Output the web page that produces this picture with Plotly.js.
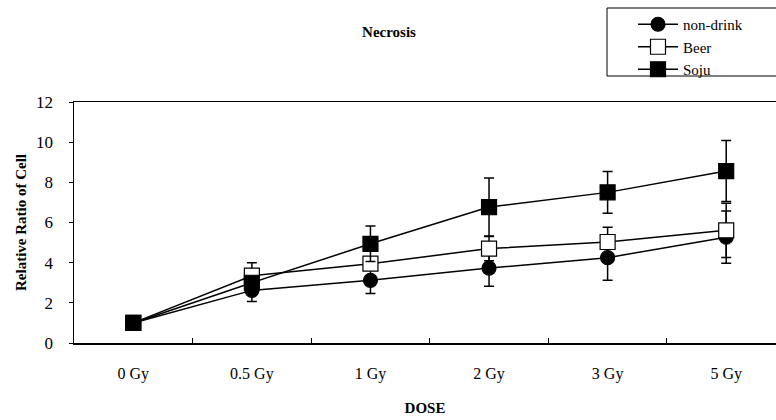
<!DOCTYPE html>
<html><head><meta charset="utf-8">
<script src="https://cdn.plot.ly/plotly-3.0.1.min.js"></script>
<style>
#chart text, #chart tspan { font-family: 'Liberation Serif', 'Times New Roman', serif !important; fill: #000 !important; }
</style>
</head><body style="margin:0;padding:0;background:#fff"><div id="chart" style="width:776px;height:420px"></div>
<script>
const categories = ["0 Gy","0.5 Gy","1 Gy","2 Gy","3 Gy","5 Gy"];
const nonDrink = [1.0, 2.62, 3.12, 3.73, 4.25, 5.27];
const nonDrinkErr = [0, 0.55, 0.65, 0.91, 1.13, 1.3];
const beer = [1.0, 3.35, 3.95, 4.70, 5.03, 5.61];
const beerErr = [0, 0.65, 0.3, 0.6, 0.73, 1.35];
const soju = [1.0, 3.0, 4.94, 6.77, 7.5, 8.56];
const sojuErr = [0, 0.3, 0.88, 1.44, 1.04, 1.52];

const fam = "Liberation Serif";
function makeTrace(name, yv, err, symbol, fill){
  return {
    type:"scatter", mode:"lines+markers", name:name, x:categories, y:yv,
    line:{color:"#000", width:1.5},
    marker:{symbol:symbol, size: symbol==="circle"?14:15, color:fill, line:{color:"#000", width:1.2}},
    error_y:{type:"data", array:err, visible:true, color:"#000", thickness:1.5, width:5},
    cliponaxis:false
  };
}
Plotly.newPlot("chart", [
  makeTrace("non-drink", nonDrink, nonDrinkErr, "circle", "#000"),
  makeTrace("Beer", beer, beerErr, "square", "#fff"),
  makeTrace("Soju", soju, sojuErr, "square", "#000")
], {
  width:776, height:420,
  margin:{l:74, r:0, t:102, b:77},
  font:{family:fam, size:14, color:"#000"},
  title:{text:"<b>Necrosis</b>", x:389/776, xref:"container", xanchor:"center", y:1-32/420, yref:"container", yanchor:"middle", font:{family:fam, size:15, color:"#000"}},
  xaxis:{type:"category", range:[-0.5,5.42], showline:true, linecolor:"#000", linewidth:1.5, mirror:true,
    ticks:"inside", tickson:"boundaries", ticklen:5, tickcolor:"#000", tickwidth:1,
    showgrid:false, zeroline:false, tickfont:{family:fam, size:16, color:"#000"}, ticklabelstandoff:15,
    title:{text:"<b>DOSE</b>", font:{family:fam, size:15, color:"#000"}, standoff:21}},
  yaxis:{range:[0,12], dtick:2, showline:true, linecolor:"#000", linewidth:1.5,
    ticks:"outside", ticklen:4, tickcolor:"#000", tickwidth:1, showgrid:false, zeroline:false,
    tickfont:{family:fam, size:17, color:"#000"}, ticklabelstandoff:12,
    title:{text:"<b>Relative Ratio of Cell</b>", font:{family:fam, size:15, color:"#000"}, standoff:6}},
  showlegend:true,
  legend:{x:(633-74)/702, xanchor:"left", y:(343-8)/241, yanchor:"top", bgcolor:"rgba(0,0,0,0)", borderwidth:0,
    font:{family:fam, size:15, color:"#000"}, tracegroupgap:0, itemwidth:40},
  shapes:[{type:"rect", xref:"paper", yref:"paper", x0:(607-74)/702, x1:1.02, y0:(343-76)/241, y1:(343-8)/241,
    line:{color:"#000", width:1}, fillcolor:"rgba(0,0,0,0)", layer:"above"}]
}, {staticPlot:true, displayModeBar:false});
</script></body></html>
